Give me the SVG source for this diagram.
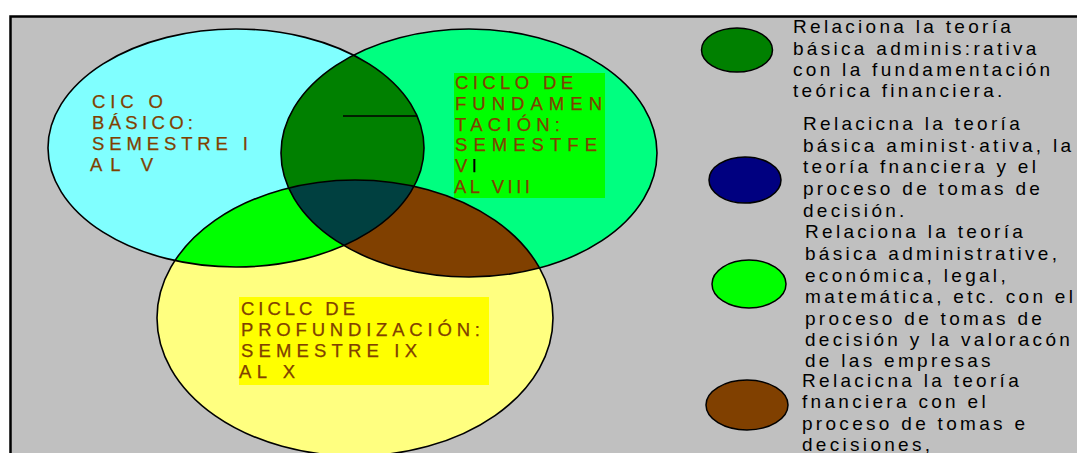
<svg xmlns="http://www.w3.org/2000/svg" width="1077" height="453" viewBox="0 0 1077 453">
<style>
.vt{font-family:"Liberation Sans",Arial,sans-serif;font-size:18.5px;fill:#804000;stroke:#804000;stroke-width:0.25}
.lt{font-family:"Liberation Sans",Arial,sans-serif;font-size:19px;letter-spacing:3.3px;fill:#000}
.ol{fill:none;stroke:#000;stroke-width:1.6}
.le{stroke:#000;stroke-width:1.5}
</style>
<defs>
<clipPath id="cC"><ellipse cx="236" cy="148" rx="188" ry="119"/></clipPath>
<clipPath id="cG"><ellipse cx="469" cy="153" rx="188" ry="124"/></clipPath>
</defs>
<rect x="0" y="0" width="1077" height="453" fill="#fff"/>
<rect x="10.5" y="16.5" width="1070" height="440" fill="#c0c0c0" stroke="#000" stroke-width="2.5"/>

<g id="venn-basico">
<ellipse cx="236" cy="148" rx="188" ry="119" fill="#80ffff"/>
</g>
<g id="venn-fundamentacion">
<ellipse cx="469" cy="153" rx="188" ry="124" fill="#00ff80"/>
</g>
<g id="venn-profundizacion">
<ellipse cx="355" cy="318" rx="198" ry="138" fill="#ffff80"/>
</g>
<g id="intersections">
<ellipse cx="469" cy="153" rx="188" ry="124" fill="#008000" clip-path="url(#cC)"/>
<ellipse cx="355" cy="318" rx="198" ry="138" fill="#00ff00" clip-path="url(#cC)"/>
<ellipse cx="355" cy="318" rx="198" ry="138" fill="#804000" clip-path="url(#cG)"/>
<g clip-path="url(#cC)"><ellipse cx="355" cy="318" rx="198" ry="138" fill="#004040" clip-path="url(#cG)"/></g>
</g>
<g id="outlines">
<ellipse class="ol" cx="236" cy="148" rx="188" ry="119"/>
<ellipse class="ol" cx="469" cy="153" rx="188" ry="124"/>
<ellipse class="ol" cx="355" cy="318" rx="198" ry="138"/>
</g>
<g id="connectors">
<line x1="343" y1="116" x2="417" y2="116" stroke="#000" stroke-width="1.5"/>
</g>

<g id="label-basico">
<text class="vt" x="92" y="108" textLength="71" lengthAdjust="spacing">CIC O</text>
<text class="vt" x="92" y="129" textLength="101" lengthAdjust="spacing">BÁSICO:</text>
<text class="vt" x="92" y="150" textLength="156" lengthAdjust="spacing">SEMESTRE I</text>
<text class="vt" x="90" y="171" textLength="63" lengthAdjust="spacing">AL V</text>
</g>
<g id="label-fundamentacion">
<rect x="454" y="73" width="151" height="125" fill="#00ff00"/>
<text class="vt" x="455" y="89" textLength="118" lengthAdjust="spacing">CICLO DE</text>
<text class="vt" x="455" y="110" textLength="147" lengthAdjust="spacing">FUNDAMEN</text>
<text class="vt" x="455" y="131" textLength="105" lengthAdjust="spacing">TACIÓN:</text>
<text class="vt" x="455" y="151" textLength="142" lengthAdjust="spacing">SEMESTFE</text>
<text class="vt" x="455" y="172" textLength="22" lengthAdjust="spacing">V<tspan fill="#000" stroke="#000">I</tspan></text>
<text class="vt" x="454" y="193" textLength="76" lengthAdjust="spacing">AL VIII</text>
</g>
<g id="label-profundizacion">
<rect x="239" y="297" width="250" height="88" fill="#ffff00"/>
<text class="vt" x="241" y="315" textLength="114" lengthAdjust="spacing">CICLC DE</text>
<text class="vt" x="241" y="336" textLength="239" lengthAdjust="spacing">PROFUNDIZACIÓN:</text>
<text class="vt" x="241" y="357" textLength="176" lengthAdjust="spacing">SEMESTRE IX</text>
<text class="vt" x="239" y="378" textLength="56" lengthAdjust="spacing">AL X</text>
</g>

<g id="legend-1">
<ellipse class="le" cx="737" cy="50" rx="35.5" ry="22" fill="#008000"/>
<text class="lt" x="793" y="33">Relaciona la teoría</text>
<text class="lt" x="793" y="55">básica adminis:rativa</text>
<text class="lt" x="793" y="76">con la fundamentación</text>
<text class="lt" x="793" y="97">teórica financiera.</text>
</g>
<g id="legend-2">
<ellipse class="le" cx="745" cy="180" rx="36" ry="23" fill="#000080"/>
<text class="lt" x="803" y="130">Relacicna la teoría</text>
<text class="lt" x="803" y="152">básica aminist·ativa, la</text>
<text class="lt" x="803" y="173">teoría fnanciera y el</text>
<text class="lt" x="803" y="195">proceso de tomas de</text>
<text class="lt" x="803" y="217">decisión.</text>
</g>
<g id="legend-3">
<ellipse class="le" cx="749" cy="284" rx="37" ry="24" fill="#00ff00"/>
<text class="lt" x="805" y="238">Relaciona la teoría</text>
<text class="lt" x="805" y="260">básica administrative,</text>
<text class="lt" x="805" y="282">económica, legal,</text>
<text class="lt" x="805" y="303">matemática, etc. con el</text>
<text class="lt" x="805" y="325">proceso de tomas de</text>
<text class="lt" x="805" y="346">decisión y la valoracón</text>
<text class="lt" x="805" y="367">de las empresas</text>
</g>
<g id="legend-4">
<ellipse class="le" cx="747" cy="405" rx="41" ry="25" fill="#804000"/>
<text class="lt" x="802" y="387">Relacicna la teoría</text>
<text class="lt" x="802" y="408">fnanciera con el</text>
<text class="lt" x="802" y="430">proceso de tomas e</text>
<text class="lt" x="802" y="451">decisiones,</text>
</g>
</svg>
